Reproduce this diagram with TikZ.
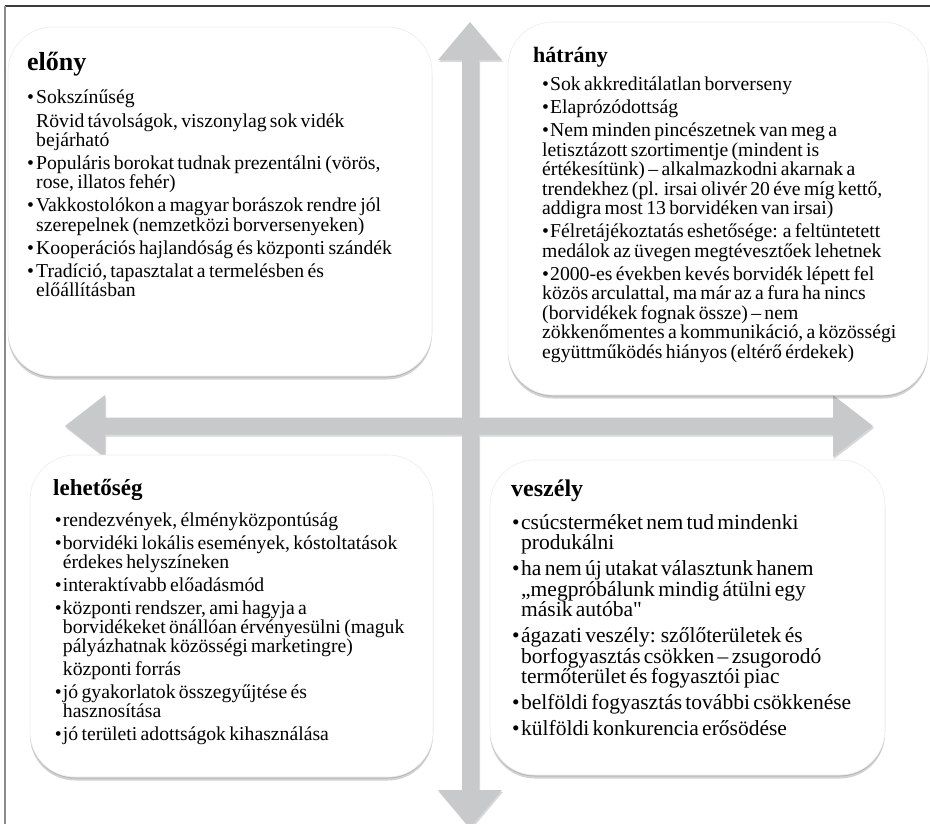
\documentclass[tikz,border=0pt]{standalone}
\usepackage{fontspec}
\setmainfont{Liberation Serif}
\usetikzlibrary{shadows}
\definecolor{arrowgray}{HTML}{C8C9CB}
\definecolor{framedark}{HTML}{3C3C3C}
\definecolor{framegray}{HTML}{8A8A8A}
\newlength\bw
\newcommand\qbulA{\hangindent=\bw\hangafter=1\noindent\makebox[\bw][l]{•}}
\newcommand\qflatA{\noindent\makebox[\bw][l]{•}}
\newcommand\qbul{\par\hangindent=\bw\hangafter=1\noindent\makebox[\bw][l]{•}}
\newcommand\qcont{\par\hangindent=\bw\hangafter=0\noindent}
\newcommand\qflat{\par\noindent\makebox[\bw][l]{•}}
\newcommand\nl{\newline}
\newcommand\straightquote{{\addfontfeatures{Ligatures=TeXOff}"}}
\tikzset{
  qbox/.style={draw=black!7, line width=0.6pt, fill=white, rounded corners=45pt,
    drop shadow={shadow xshift=0pt, shadow yshift=-3.5pt, opacity=0.25, fill=black!70},
    drop shadow={shadow xshift=0pt, shadow yshift=-1.5pt, opacity=0.3, fill=black!50},
    inner sep=0pt},
  qtitle/.style={anchor=base west, inner sep=0pt, font=\fontsize{#1}{24}\selectfont\bfseries},
  qbody/.style={anchor=base west, inner sep=0pt, text width=#1, align=left},
  arrowshape/.style={fill=arrowgray,
    drop shadow={shadow xshift=1pt, shadow yshift=-2pt, opacity=0.25, fill=black!60}},
}
\begin{document}
\begin{tikzpicture}[x=1pt, y=-1pt]
\useasboundingbox (0,0) rectangle (930,824);
\clip (0,0) rectangle (930,824);
\fill[white] (0,0) rectangle (930,824);
% frame
\draw[framedark, line width=1.5pt] (5,6) -- (930,6);
\draw[framegray, line width=2pt] (5,6) -- (5,824);
% cross arrows
\path[arrowshape]
  (462,60) -- (438,60) -- (470,22) -- (502,60) -- (479,60) -- (479,790) -- (502,790) -- (470,828) -- (438,790) -- (462,790) -- cycle
  (833,417.5) -- (833,395) -- (873,426) -- (833,457) -- (833,434.5) -- (105,434.5) -- (105,457) -- (65,426) -- (105,395) -- (105,417.5) -- cycle;
% boxes
\node[qbox, minimum width=424pt, minimum height=349pt] (b1) at (220,201.5) {};
\node[qbox, minimum width=420pt, minimum height=373pt] (b2) at (718,208.5) {};
\node[qbox, minimum width=403pt, minimum height=322pt] (b3) at (231.5,616) {};
\node[qbox, minimum width=395pt, minimum height=315pt] (b4) at (687.5,617.5) {};
% titles
\node[qtitle=26] (t1) at (27,70.7) {előny};
\node[qtitle=22] (t2) at (533,62.7) {hátrány};
\node[qtitle=23] (t3) at (53,495) {lehetőség};
\node[qtitle=24] (t4) at (511,496.7) {veszély};
% bodies
\node[qbody=400pt] (x1) at (27,104) {\setlength\bw{9pt}\setlength\parskip{4pt}\fontsize{19.7}{19.2}\selectfont\lineskiplimit=-30pt
\qbulA Sokszínűség
\qcont Rövid távolságok, viszonylag sok vidék\nl bejárható
\qbul Populáris borokat tudnak prezentálni (vörös,\nl rose, illatos fehér)
\qbul Vakkostolókon a magyar borászok rendre jól\nl szerepelnek (nemzetközi borversenyeken)
\qbul Kooperációs hajlandóság és központi szándék
\qbul Tradíció, tapasztalat a termelésben és\nl előállításban\par};
\node[qbody=380pt] (x2) at (542,91) {\setlength\bw{8pt}\setlength\parskip{3.5pt}\fontsize{19.7}{19.5}\selectfont\lineskiplimit=-30pt
\qflatA Sok akkreditálatlan borverseny
\qflat Elaprózódottság
\qflat Nem minden pincészetnek van meg a\nl letisztázott szortimentje (mindent is\nl értékesítünk) – alkalmazkodni akarnak a\nl trendekhez (pl. irsai olivér 20 éve míg kettő,\nl addigra most 13 borvidéken van irsai)
\qflat Félretájékoztatás eshetősége: a feltüntetett\nl medálok az üvegen megtévesztőek lehetnek
\qflat 2000-es években kevés borvidék lépett fel\nl közös arculattal, ma már az a fura ha nincs\nl (borvidékek fognak össze) – nem\nl zökkenőmentes a kommunikáció, a közösségi\nl együttműködés hiányos (eltérő érdekek)\par};
\node[qbody=370pt] (x3) at (54.7,526) {\setlength\bw{8pt}\setlength\parskip{4pt}\fontsize{19.7}{19}\selectfont\lineskiplimit=-30pt
\qbulA rendezvények, élményközpontúság
\qbul borvidéki lokális események, kóstoltatások\nl érdekes helyszíneken
\qbul interaktívabb előadásmód
\qbul központi rendszer, ami hagyja a\nl borvidékeket önállóan érvényesülni (maguk\nl pályázhatnak közösségi marketingre)
\qcont központi forrás
\qbul jó gyakorlatok összegyűjtése és\nl hasznosítása
\qbul jó területi adottságok kihasználása\par};
\node[qbody=370pt] (x4) at (512,529) {\setlength\bw{9pt}\setlength\parskip{5.5pt}\fontsize{21.5}{20.5}\selectfont\lineskiplimit=-30pt
\qbulA csúcsterméket nem tud mindenki\nl produkálni
\qbul ha nem új utakat választunk hanem\nl „megpróbálunk mindig átülni egy\nl másik autóba\straightquote
\qbul ágazati veszély: szőlőterületek és\nl borfogyasztás csökken – zsugorodó\nl termőterület és fogyasztói piac
\qbul belföldi fogyasztás további csökkenése
\qbul külföldi konkurencia erősödése\par};
\end{tikzpicture}
\end{document}
